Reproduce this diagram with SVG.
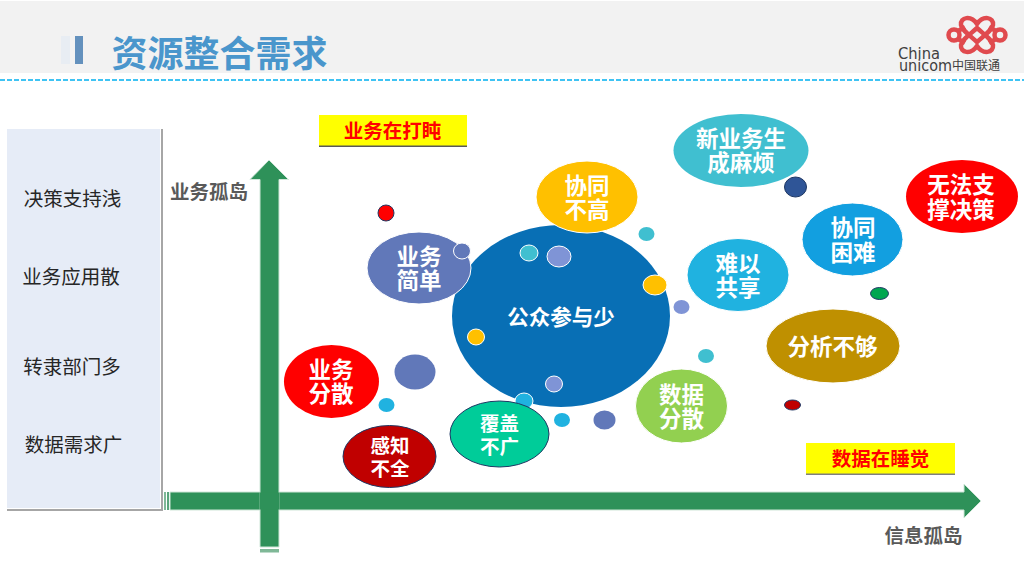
<svg xmlns="http://www.w3.org/2000/svg" width="1024" height="576" viewBox="0 0 1024 576">
<style>
text{font-family:"Noto Sans CJK SC","Liberation Sans",sans-serif;text-anchor:middle}
.w{fill:#fff;font-weight:700;font-size:22.500px}
.w19{fill:#fff;font-weight:700;font-size:19.500px}
.k{fill:#262626;font-size:19.500px}
.g{fill:#595959;font-weight:700;font-size:19.500px}
.y{fill:#ff0000;font-weight:700;font-size:19.500px}
.o{stroke:#fff;stroke-width:1}
.n{stroke:#1f3864;stroke-width:1}
.ax{fill:#2e9159;stroke:#cfe6d8;stroke-width:1}
.bar{fill:#2e9159}
.logo{fill:none;stroke:#e04a4e;stroke-width:4.500}
.lt{fill:#404040;text-anchor:start}
</style>
<rect x="0" y="1" width="1024" height="72" fill="#f2f2f2"/>
<line x1="0" y1="80" x2="1024" y2="80" stroke="#00b0f0" stroke-width="1.5" stroke-dasharray="5 2"/>
<g id="title">
<rect x="61" y="36" width="9" height="28" fill="#e8edf3"/>
<rect x="75" y="36" width="8" height="28" fill="#6491bd"/>
<text x="219.500" y="67" style="font-size:36px;font-weight:700" fill="#4a96cc">资源整合需求</text>
</g>
<g id="logo">
<path class="logo" d="M977 24C971 15 960 17 961 25C962 30 968 34 977 42C986 34 992 30 993 25C994 17 983 15 977 24Z"/>
<path class="logo" d="M977 46C971 55 960 53 961 45C962 40 968 36 977 28C986 36 992 40 993 45C994 53 983 55 977 46Z"/>
<circle class="logo" cx="954" cy="35" r="5.500"/>
<circle class="logo" cx="1000" cy="35" r="5.500"/>
<path class="logo" d="M958 31L965 27M958 39L965 43M996 31L989 27M996 39L989 43"/>
<text class="lt" x="898" y="59" style="font-family:'DejaVu Sans',sans-serif;font-size:15px" textLength="42" lengthAdjust="spacingAndGlyphs">China</text>
<text class="lt" x="899" y="71" style="font-family:'DejaVu Sans',sans-serif;font-size:15px" textLength="53" lengthAdjust="spacingAndGlyphs">unicom</text>
<text class="lt" x="952" y="70" style="font-size:12px">中国联通</text>
</g>
<g id="left-panel">
<rect x="7" y="129" width="153" height="379" fill="#e6ecf7"/>
<path d="M162 129V510H7" fill="none" stroke="#a6a6a6" stroke-width="2"/>
<text class="k" x="72.500" y="206">决策支持浅</text>
<text class="k" x="71" y="284">业务应用散</text>
<text class="k" x="72" y="374">转隶部门多</text>
<text class="k" x="73.500" y="452">数据需求广</text>
</g>
<g id="connectors">
<path class="ax" d="M170 492H964V484L981 501L964 518V510H170Z"/>
<path class="ax" d="M260 179.500H250L269 160L288.500 179.500H279V547H260Z"/>
<rect class="bar" x="259.500" y="492.500" width="20" height="17"/>
<rect x="260" y="549" width="19" height="3.500" fill="#7fb897"/>
<rect x="164" y="492" width="2" height="18" fill="#7fb897"/>
<rect x="167" y="492" width="2" height="18" fill="#5aa57b"/>
</g>
<g id="label-y"><text class="g" x="209" y="199">业务孤岛</text></g>
<g id="label-x"><text class="g" x="923.500" y="543">信息孤岛</text></g>
<g id="tag-top">
<rect x="319" y="115" width="148" height="31" fill="#ffff00"/>
<rect x="319" y="145.500" width="148" height="1.5" fill="#595959"/>
<text class="y" x="392.500" y="138">业务在打盹</text>
</g>
<g id="tag-bottom">
<rect x="806" y="443" width="149" height="31" fill="#ffff00"/>
<rect x="806" y="473.500" width="149" height="1.5" fill="#7f7f7f"/>
<text class="y" x="880.500" y="466">数据在睡觉</text>
</g>
<g id="hub">
<ellipse cx="561" cy="316" rx="109" ry="91" fill="#086fb5"/>
<text class="w" x="561" y="325" style="font-size:21.500px">公众参与少</text>
</g>
<g id="n-yewu-jiandan">
<ellipse class="o" cx="419" cy="268" rx="52" ry="36" fill="#6178b9"/>
<text class="w"><tspan x="419" y="265">业务</tspan><tspan x="419" y="289">简单</tspan></text>
</g>
<g id="n-xietong-bugao">
<ellipse class="o" cx="587" cy="197" rx="51" ry="36" fill="#ffc000"/>
<text class="w"><tspan x="587" y="194">协同</tspan><tspan x="587" y="218">不高</tspan></text>
</g>
<g id="n-xinyewu">
<ellipse cx="741" cy="150.500" rx="67.500" ry="36.500" fill="#40bfd0"/>
<text class="w"><tspan x="741" y="147">新业务生</tspan><tspan x="741" y="171">成麻烦</tspan></text>
</g>
<g id="n-wufa">
<ellipse cx="962" cy="196.500" rx="56" ry="36.500" fill="#ff0000"/>
<text class="w"><tspan x="961" y="193">无法支</tspan><tspan x="961" y="218">撑决策</tspan></text>
</g>
<g id="n-xietong-kunnan">
<ellipse class="o" cx="852.500" cy="239.500" rx="50.500" ry="36.500" fill="#129fe0"/>
<text class="w"><tspan x="853" y="236">协同</tspan><tspan x="853" y="261">困难</tspan></text>
</g>
<g id="n-nanyi">
<ellipse class="o" cx="738" cy="275" rx="51" ry="36.500" fill="#20b2e0"/>
<text class="w"><tspan x="738" y="272">难以</tspan><tspan x="738" y="296">共享</tspan></text>
</g>
<g id="n-fenxi">
<ellipse class="o" cx="833" cy="346" rx="67" ry="37" fill="#bf9000"/>
<text class="w" x="832.500" y="355">分析不够</text>
</g>
<g id="n-shuju">
<ellipse class="o" cx="681.500" cy="406" rx="46" ry="37" fill="#92d050"/>
<text class="w"><tspan x="681.500" y="403">数据</tspan><tspan x="681.500" y="427">分散</tspan></text>
</g>
<g id="dots-behind">
<ellipse class="o" cx="524" cy="401" rx="9" ry="8" fill="#20b2e0"/>
</g>
<g id="n-fugai">
<ellipse class="n" cx="499.500" cy="434" rx="49.500" ry="33" fill="#00cc99"/>
<text class="w19"><tspan x="499.500" y="431">覆盖</tspan><tspan x="499.500" y="454">不广</tspan></text>
</g>
<g id="n-ganzhi">
<ellipse class="n" cx="389.500" cy="456.500" rx="46.500" ry="31" fill="#c00000"/>
<text class="w19"><tspan x="390" y="453">感知</tspan><tspan x="390" y="476">不全</tspan></text>
</g>
<g id="n-fensan">
<ellipse cx="331.500" cy="381.500" rx="47.500" ry="36.500" fill="#ff0000"/>
<text class="w"><tspan x="331" y="378">业务</tspan><tspan x="331" y="402">分散</tspan></text>
</g>
<g id="dots">
<circle class="n" cx="386" cy="213" r="8" fill="#ff0000"/>
<ellipse class="o" cx="462" cy="251" rx="8.500" ry="8" fill="#6178b9"/>
<ellipse class="o" cx="529" cy="253" rx="9" ry="8" fill="#40bfd0"/>
<ellipse class="o" cx="559" cy="256.500" rx="12" ry="10.500" fill="#7f94d6"/>
<ellipse cx="646.500" cy="234" rx="8" ry="7" fill="#40bfd0"/>
<ellipse class="o" cx="655" cy="285" rx="12" ry="10" fill="#ffc000"/>
<ellipse cx="681.500" cy="307" rx="8" ry="7" fill="#7f94d6"/>
<ellipse class="o" cx="476" cy="337" rx="8.500" ry="8" fill="#ffc000"/>
<ellipse class="o" cx="554" cy="384" rx="8.500" ry="8" fill="#7f94d6"/>
<ellipse cx="415" cy="372" rx="20.500" ry="17.500" fill="#6178b9"/>
<ellipse cx="386.500" cy="405" rx="8" ry="7" fill="#20b2e0"/>
<ellipse cx="562" cy="420" rx="8" ry="7" fill="#20b2e0"/>
<ellipse cx="604.500" cy="420" rx="11" ry="9.500" fill="#6178b9"/>
<ellipse cx="706" cy="356" rx="8" ry="7" fill="#40bfd0"/>
<ellipse class="n" cx="795.500" cy="187" rx="11" ry="10" fill="#2f5597"/>
<ellipse class="n" cx="879.500" cy="293.500" rx="9" ry="6" fill="#00a650"/>
<ellipse class="n" cx="792.500" cy="405" rx="8" ry="5" fill="#c00000"/>
</g>
</svg>
